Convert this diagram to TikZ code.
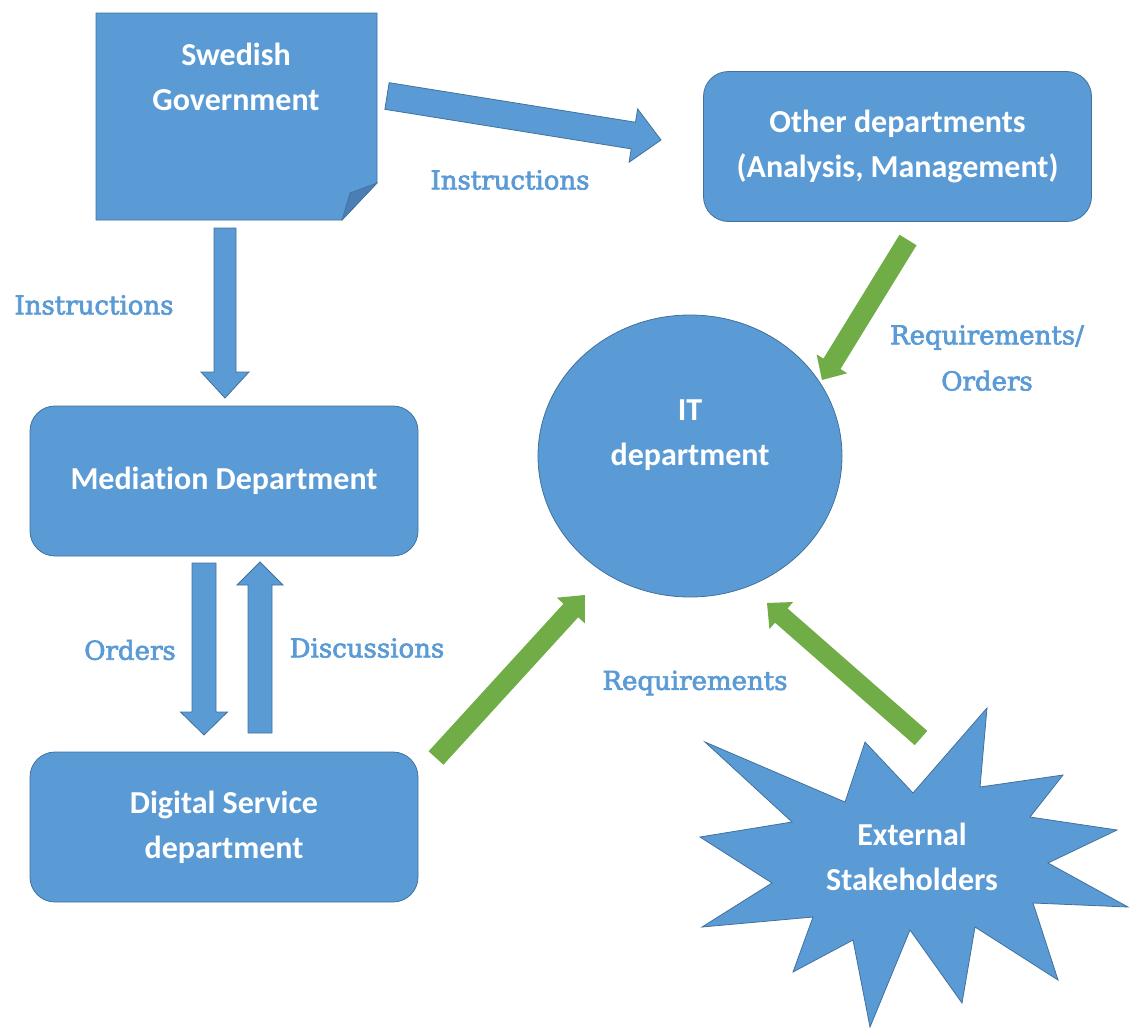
\documentclass[tikz,border=0pt]{standalone}
\usepackage{fontspec}
\setmainfont{Carlito}[Ligatures=NoCommon]
\newfontfamily\labelfont{DejaVu Serif}[Ligatures=NoCommon]
\usetikzlibrary{calc,shapes.geometric}
\definecolor{boxblue}{HTML}{5B9BD5}
\definecolor{edgeblue}{HTML}{41719C}
\definecolor{foldblue}{HTML}{4A7EB5}
\definecolor{labblue}{HTML}{5B9BD5}
\definecolor{arrgreen}{HTML}{70AD47}
\newcommand\heavytext[1]{\special{pdf:literal direct 2 Tr 0.7 w}#1\special{pdf:literal direct 0 Tr}}
\tikzset{
  shapebox/.style={fill=boxblue, draw=edgeblue, line width=0.8pt},
  roundbox/.style={shapebox, rounded corners=25pt, minimum width=388pt, minimum height=150pt, inner sep=0pt},
  boxtext/.style={text=white, font=\fontsize{32}{45}\selectfont\bfseries, align=center, inner sep=0pt},
  lbl/.style={text=labblue, font=\labelfont\fontsize{26}{46}\selectfont, align=center, inner sep=0pt},
  bluearrow/.style={fill=boxblue, draw=edgeblue, line width=0.8pt, line join=miter},
  greenarrow/.style={fill=arrgreen, draw=none},
}
% style, from, to, half shaft, half head, head length
\newcommand\blockarrow[6]{%
  \coordinate (bah) at ($(#3)!#6!(#2)$);
  \path[#1] ($(#2)!#4!90:(#3)$) -- ($(bah)!#4!-90:(#2)$) -- ($(bah)!#5!-90:(#2)$)
    -- (#3) -- ($(bah)!#5!90:(#2)$) -- ($(bah)!#4!90:(#2)$) -- ($(#2)!#4!-90:(#3)$) -- cycle;
}
\begin{document}
\begin{tikzpicture}[x=1pt,y=-1pt]
\useasboundingbox (0,0) rectangle (1134,1028);

% Swedish Government (folded corner)
\path[shapebox] (96,13) -- (377,13) -- (377,183) -- (342,220) -- (96,220) -- cycle;
\path[fill=foldblue, draw=edgeblue, line width=0.6pt] (377,183) -- (342,220) -- (350,193) -- cycle;
\node[boxtext] (gov) at (236,77) {Swedish\\Government};
\coordinate (govS) at (225,228);
\coordinate (govE) at (387,96);

% Other departments
\node[roundbox] (other) at (897.5,146.5) {};
\node[boxtext] at (other) {Other departments\\(Analysis, Management)};

% Mediation
\node[roundbox] (med) at (224,481) {};
\node[boxtext] at (med) {Mediation Department};

% Digital Service
\node[roundbox] (dig) at (224,827) {};
\node[boxtext] at (dig) {Digital Service\\department};

% IT department
\node[ellipse, shapebox, minimum width=304pt, minimum height=282pt, inner sep=0pt] (it) at (690,456) {};
\node[boxtext] at ($(it)+(0,-21)$) {IT\\department};

% External Stakeholders starburst
\path[shapebox] (705,742) -- (845,802) -- (865,742) -- (913,793) -- (987,708) -- (980,787)
  -- (1063,775) -- (1030,817) -- (1117,830) -- (1048,863) -- (1128,907) -- (1033,903)
  -- (1058,980) -- (975,927) -- (962,1003) -- (910,930) -- (870,1027) -- (853,940)
  -- (793,972) -- (813,917) -- (702,927) -- (772,883) -- (700,837) -- (792,822) -- cycle;
\node[boxtext] (ext) at (912,857) {External\\Stakeholders};

% arrow end coordinates
\coordinate (otherTip) at (661,140);
\coordinate (medTip) at (225,398);
\coordinate (ordTail) at (204,563);
\coordinate (ordTip) at (204,735);
\coordinate (disTail) at (260,733);
\coordinate (disTip) at (260,562);
\coordinate (digTail) at (436,758);
\coordinate (itSW) at (585,595);
\coordinate (otherTail) at (908,240);
\coordinate (itNE) at (822,380);
\coordinate (extTail) at (921,738);
\coordinate (itSE) at (767,603);

% blue block arrows
\blockarrow{bluearrow}{govE}{otherTip}{13.5pt}{27pt}{28pt}
\blockarrow{bluearrow}{govS}{medTip}{11pt}{24pt}{26pt}
\blockarrow{bluearrow}{ordTail}{ordTip}{12pt}{23.5pt}{23pt}
\blockarrow{bluearrow}{disTail}{disTip}{12pt}{23pt}{23pt}

% green block arrows
\blockarrow{greenarrow}{digTail}{itSW}{10pt}{19pt}{21pt}
\blockarrow{greenarrow}{otherTail}{itNE}{10pt}{18pt}{19pt}
\blockarrow{greenarrow}{extTail}{itSE}{9.5pt}{18pt}{19pt}

% labels
\node[lbl] (l1) at (510,180) {\heavytext{Instructions}};
\node[lbl] (l2) at (94,305) {\heavytext{Instructions}};
\node[lbl] (l3) at (987,358) {\heavytext{Requirements/}\\\heavytext{Orders}};
\node[lbl] (l4) at (130,650) {\heavytext{Orders}};
\node[lbl] (l5) at (367,648) {\heavytext{Discussions}};
\node[lbl] (l6) at (695,683) {\heavytext{Requirements}};
\end{tikzpicture}
\end{document}
